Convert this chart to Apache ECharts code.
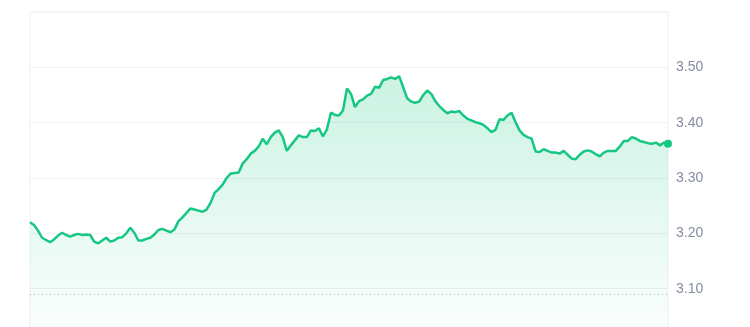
<!DOCTYPE html>
<html>
<head>
<meta charset="utf-8">
<script src="https://cdn.jsdelivr.net/npm/echarts@6/dist/echarts.min.js"></script>
<style>
html,body{margin:0;padding:0;background:#fff;}
#chart{width:750px;height:327px;}
</style>
</head>
<body>
<div id="chart"></div>
<script>
// Price series (evenly spaced samples, left to right)
const prices = [
3.220,3.215,3.205,3.192,3.188,3.184,3.189,3.196,3.201,3.197,
3.194,3.197,3.199,3.197,3.198,3.197,3.185,3.182,3.187,3.192,
3.185,3.187,3.192,3.193,3.200,3.210,3.201,3.187,3.187,3.190,
3.192,3.198,3.206,3.208,3.205,3.202,3.207,3.222,3.229,3.237,
3.245,3.243,3.241,3.239,3.243,3.255,3.273,3.280,3.288,3.300,
3.308,3.309,3.310,3.326,3.334,3.344,3.349,3.357,3.371,3.361,
3.374,3.382,3.386,3.374,3.349,3.359,3.368,3.377,3.374,3.374,
3.386,3.385,3.390,3.375,3.388,3.418,3.414,3.413,3.422,3.462,
3.452,3.428,3.439,3.442,3.449,3.452,3.465,3.463,3.477,3.479,
3.482,3.479,3.484,3.464,3.444,3.438,3.436,3.438,3.450,3.458,
3.452,3.439,3.430,3.423,3.417,3.420,3.419,3.421,3.413,3.407,
3.404,3.401,3.399,3.396,3.390,3.383,3.387,3.406,3.405,3.413,
3.418,3.401,3.386,3.378,3.374,3.371,3.348,3.347,3.352,3.349,
3.346,3.346,3.344,3.349,3.342,3.335,3.334,3.342,3.348,3.350,
3.348,3.343,3.339,3.346,3.349,3.349,3.349,3.357,3.367,3.367,
3.374,3.371,3.367,3.365,3.363,3.362,3.364,3.359,3.364,3.362
];
const categories = prices.map((_, i) => i);
const yTicks = [3.10, 3.20, 3.30, 3.40, 3.50];
const referencePrice = 3.087;

const chart = echarts.init(document.getElementById('chart'), null, {renderer: 'canvas'});
const lastIdx = prices.length - 1;
chart.setOption({
  animation: false,
  backgroundColor: '#ffffff',
  grid: {
    left: 30, width: 638, top: 12, height: 332,
    outerBoundsMode: 'none',
    containLabel: false,
    show: true, borderColor: '#eff1f3', borderWidth: 1, backgroundColor: 'transparent'
  },
  xAxis: {
    type: 'category',
    data: categories,
    boundaryGap: false,
    axisLine: {show: false},
    axisTick: {show: false},
    axisLabel: {show: false},
    splitLine: {show: false}
  },
  yAxis: {
    type: 'value',
    position: 'right',
    min: 3.0,
    max: 3.6,
    interval: 0.1,
    axisLine: {show: false},
    axisTick: {show: false},
    splitLine: {show: true, lineStyle: {color: '#eff1f3', width: 1}},
    axisLabel: {
      margin: 8,
      color: '#858ca2',
      fontSize: 14,
      fontFamily: '"Liberation Sans", Arial, sans-serif',
      formatter: function (v) {
        const r = Math.round(v * 100) / 100;
        return yTicks.some(t => Math.abs(t - r) < 1e-6) ? r.toFixed(2) : '';
      }
    }
  },
  series: [{
    type: 'line',
    data: prices,
    showSymbol: false,
    smooth: false,
    lineStyle: {color: '#16c784', width: 2.5},
    itemStyle: {color: '#16c784'},
    areaStyle: {
      color: new echarts.graphic.LinearGradient(0, 0, 0, 1, [
        {offset: 0, color: 'rgba(22,199,132,0.32)'},
        {offset: 1, color: 'rgba(22,199,132,0.01)'}
      ])
    },
    markPoint: {
      symbol: 'circle',
      symbolSize: 8,
      itemStyle: {color: '#16c784'},
      label: {show: false},
      data: [{coord: [lastIdx, prices[lastIdx]]}]
    },
    markLine: {
      symbol: ['none', 'none'],
      silent: true,
      label: {show: false},
      lineStyle: {color: '#a6b0c3', type: [1, 3], width: 1},
      data: [{yAxis: referencePrice}]
    }
  }]
});
</script>
</body>
</html>
